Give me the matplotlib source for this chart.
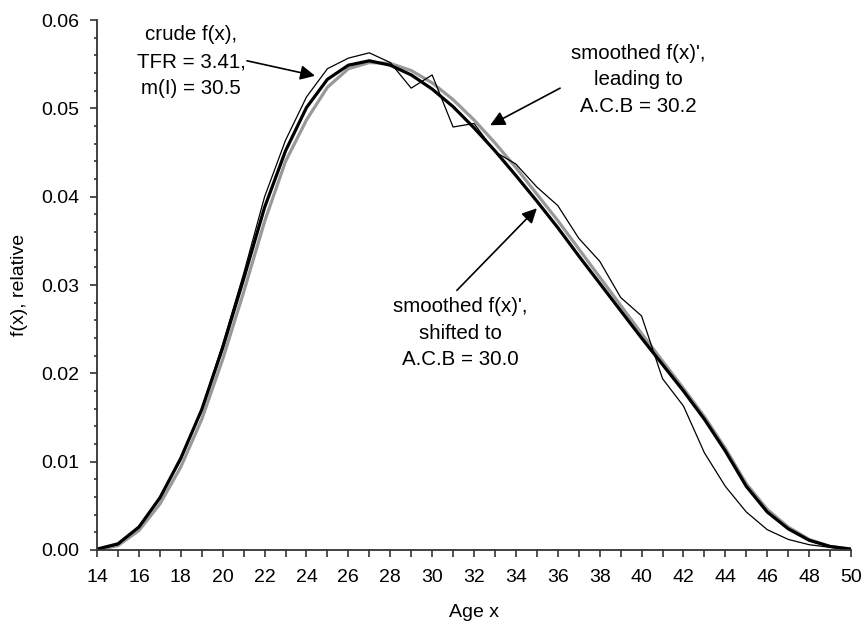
import numpy as np
import matplotlib
matplotlib.use("Agg")
import matplotlib.pyplot as plt
from matplotlib.ticker import MultipleLocator, FormatStrFormatter

plt.rcParams['font.family'] = ['Liberation Sans', 'DejaVu Sans']

ages = np.arange(14, 51)

# crude f(x)
crude = [0.0001, 0.0006, 0.0026, 0.0059, 0.0102, 0.0160, 0.0233, 0.0313,
         0.0400, 0.0464, 0.0513, 0.0545, 0.0557, 0.0563, 0.0552, 0.0523,
         0.0538, 0.0479, 0.0483, 0.0451, 0.0437, 0.0411, 0.0390, 0.0353,
         0.0327, 0.0286, 0.0265, 0.0194, 0.0163, 0.0110, 0.0072, 0.0043,
         0.0023, 0.0012, 0.0006, 0.0003, 0.0001]

# smoothed f(x)', shifted to A.C.B = 30.0 (thick black)
shifted = [0.0001, 0.0007, 0.0026, 0.0059, 0.0104, 0.0159, 0.0229, 0.0307,
           0.0388, 0.0452, 0.0501, 0.0533, 0.0549, 0.0554, 0.0549, 0.0538,
           0.0522, 0.0502, 0.0478, 0.0452, 0.0424, 0.0395, 0.0365, 0.0333,
           0.0302, 0.0271, 0.0240, 0.0210, 0.0180, 0.0148, 0.0112, 0.0072,
           0.0043, 0.0024, 0.0011, 0.0004, 0.0001]

# smoothed f(x)', leading to A.C.B = 30.2 (thick grey)
leading = [0.0000, 0.0005, 0.0022, 0.0052, 0.0094, 0.0148, 0.0216, 0.0292,
           0.0372, 0.0440, 0.0487, 0.0524, 0.0545, 0.0552, 0.0551, 0.0543,
           0.0529, 0.0510, 0.0487, 0.0461, 0.0433, 0.0403, 0.0373, 0.0341,
           0.0309, 0.0277, 0.0245, 0.0214, 0.0183, 0.0151, 0.0115, 0.0075,
           0.0046, 0.0026, 0.0012, 0.0004, 0.0001]

fs = 14
fs_note = 14.8
fig = plt.figure(figsize=(8.64, 6.3), dpi=100)
ax = fig.add_axes([0.1123, 0.127, 0.8727, 0.841])

ax.plot(ages, leading, color='#999999', lw=2.3, solid_joinstyle='round')
ax.plot(ages, shifted, color='black', lw=2.3, solid_joinstyle='round')
ax.plot(ages, crude, color='black', lw=0.9)

ax.set_xlim(14, 50)
ax.set_ylim(0, 0.06)
ax.xaxis.set_major_locator(MultipleLocator(2))
ax.xaxis.set_minor_locator(MultipleLocator(1))
ax.yaxis.set_major_locator(MultipleLocator(0.01))
ax.yaxis.set_minor_locator(MultipleLocator(0.002))
ax.yaxis.set_major_formatter(FormatStrFormatter('%.2f'))

for s in ['top', 'right']:
    ax.spines[s].set_visible(False)
for s in ['left', 'bottom']:
    ax.spines[s].set_color('#333333')
    ax.spines[s].set_linewidth(1.3)

ax.tick_params(axis='both', which='both', direction='out', color='#333333',
               width=1.2, labelsize=fs)
ax.tick_params(axis='x', which='both', length=5, pad=9)
ax.tick_params(axis='y', which='major', length=5, pad=8)
ax.tick_params(axis='y', which='minor', length=2.5)

ax.set_xlabel('Age x', fontsize=fs, labelpad=13)
ax.set_ylabel('f(x), relative', fontsize=fs, labelpad=9)

ax.text(18.49, 0.0553, "crude f(x),\nTFR = 3.41,\nm(I) = 30.5", fontsize=fs_note,
        ha='center', va='center', linespacing=1.52)
ax.text(39.84, 0.05323, "smoothed f(x)',\nleading to\nA.C.B = 30.2", fontsize=fs_note,
        ha='center', va='center', linespacing=1.52)
ax.text(31.33, 0.02457, "smoothed f(x)',\nshifted to\nA.C.B = 30.0", fontsize=fs_note,
        ha='center', va='center', linespacing=1.52)

arrow = dict(arrowstyle='-|>', color='black', lw=1.2, mutation_scale=22,
             shrinkA=0, shrinkB=0)
ax.annotate('', xy=(24.41, 0.0537), xytext=(21.16, 0.0554), arrowprops=arrow)
ax.annotate('', xy=(32.77, 0.0481), xytext=(36.11, 0.0523), arrowprops=arrow)
ax.annotate('', xy=(35.0, 0.0387), xytext=(31.18, 0.0294), arrowprops=arrow)

fig.savefig('out.png', dpi=100)
